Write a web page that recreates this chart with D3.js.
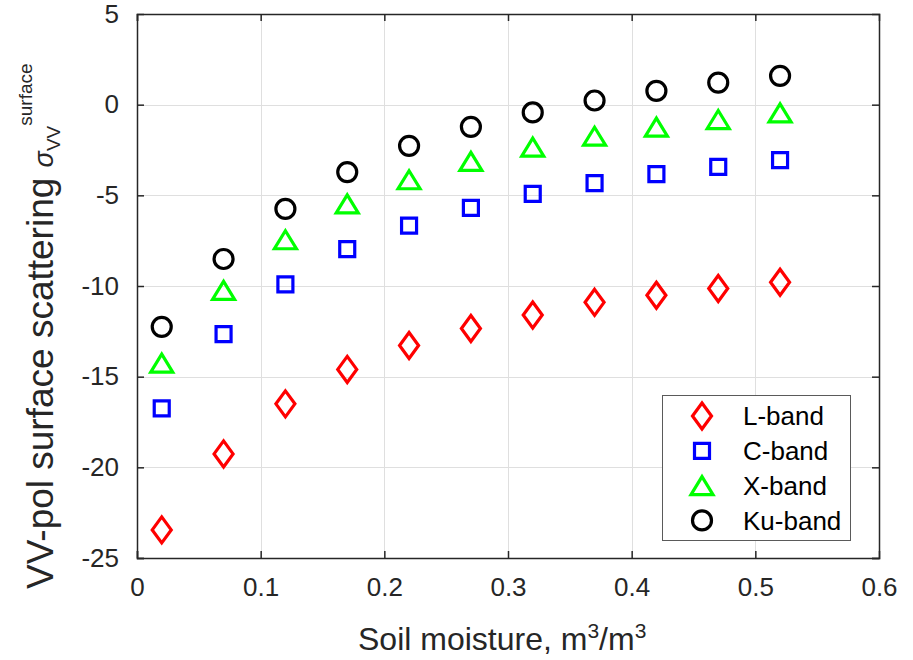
<!DOCTYPE html>
<html>
<head>
<meta charset="utf-8">
<script src="https://cdn.jsdelivr.net/npm/d3@7"></script>
<style>
  body { margin: 0; background: #fff; }
  text { font-family: "Liberation Sans", Arial, sans-serif; }
</style>
</head>
<body>
<div id="chart"></div>
<script>
// soil moisture (m3/m3) and VV surface backscatter (dB) per band
const moisture = [0.02, 0.07, 0.12, 0.17, 0.22, 0.27, 0.32, 0.37, 0.42, 0.47, 0.52];
const lBand  = [-23.45, -19.26, -16.5, -14.6, -13.28, -12.34, -11.6, -10.9, -10.51, -10.14, -9.79];
const cBand  = [-16.75, -12.65, -9.91, -7.97, -6.67, -5.69, -4.92, -4.33, -3.83, -3.43, -3.06];
const xBand  = [-14.25, -10.24, -7.45, -5.47, -4.14, -3.13, -2.34, -1.74, -1.24, -0.82, -0.45];
const kuBand = [-12.25, -8.51, -5.75, -3.72, -2.27, -1.22, -0.43, 0.23, 0.76, 1.22, 1.59];
const bandNames = ["L-band", "C-band", "X-band", "Ku-band"];
const xTicks = [0, 0.1, 0.2, 0.3, 0.4, 0.5, 0.6];
const yTicks = [-25, -20, -15, -10, -5, 0, 5];

const width = 913, height = 660;
const margin = {top: 14, right: 34, bottom: 102, left: 137};

const svg = d3.select("#chart").append("svg")
    .attr("width", width)
    .attr("height", height);

const x = d3.scaleLinear().domain([0, 0.6]).range([margin.left, width - margin.right]);
const y = d3.scaleLinear().domain([-25, 5]).range([height - margin.bottom, margin.top]);

// grid
const grid = svg.append("g").attr("stroke", "#dfdfdf").attr("stroke-width", 1);
grid.selectAll(".gx").data(xTicks.slice(1, -1)).join("line")
    .attr("x1", d => Math.round(x(d)) + 0.5).attr("x2", d => Math.round(x(d)) + 0.5)
    .attr("y1", y(5)).attr("y2", y(-25));
grid.selectAll(".gy").data(yTicks.slice(1, -1)).join("line")
    .attr("y1", d => Math.round(y(d)) + 0.5).attr("y2", d => Math.round(y(d)) + 0.5)
    .attr("x1", x(0)).attr("x2", x(0.6));

// axes, ticks inside on all four sides
const fmt = d => String(+d.toFixed(1));
const axes = [
    svg.append("g").attr("transform", `translate(0,${y(-25)})`)
        .call(d3.axisBottom(x).tickValues(xTicks).tickSize(-7).tickPadding(20).tickFormat(fmt)),
    svg.append("g").attr("transform", `translate(0,${y(5)})`)
        .call(d3.axisTop(x).tickValues(xTicks).tickSize(-7).tickFormat("")),
    svg.append("g").attr("transform", `translate(${x(0)},0)`)
        .call(d3.axisLeft(y).tickValues(yTicks).tickSize(-7).tickPadding(18).tickFormat(d => String(d))),
    svg.append("g").attr("transform", `translate(${x(0.6)},0)`)
        .call(d3.axisRight(y).tickValues(yTicks).tickSize(-7).tickFormat(""))
];
axes.forEach(a => {
    a.select(".domain").attr("stroke", "#262626").attr("stroke-width", 1.5);
    a.selectAll(".tick line").attr("stroke", "#262626").attr("stroke-width", 1.5);
    a.selectAll(".tick text").attr("fill", "#262626").style("font-size", "26px")
        .style("font-family", '"Liberation Sans", Arial, sans-serif');
});
svg.selectAll(".tick").filter(d => d === 0.6 || d === 5).select("line").remove();

// marker shapes
const shapes = {
    diamond: "M0,-13L9.5,0L0,13L-9.5,0Z",
    square: "M-7.5,-7.5H7.5V7.5H-7.5Z",
    triangle: "M0,-9L11,9L-11,9Z"
};
const series = [
    {name: bandNames[0], values: lBand, color: "#ff0000", shape: "diamond"},
    {name: bandNames[1], values: cBand, color: "#0000ff", shape: "square"},
    {name: bandNames[2], values: xBand, color: "#00ff00", shape: "triangle"},
    {name: bandNames[3], values: kuBand, color: "#000000", shape: "circle"}
];

function drawMarker(sel, s) {
    if (s.shape === "circle") {
        sel.append("circle").attr("r", 9.5);
    } else {
        sel.append("path").attr("d", shapes[s.shape]);
    }
    sel.attr("fill", "none").attr("stroke", s.color).attr("stroke-width", 3.2);
}

series.forEach(s => {
    svg.append("g").selectAll("g")
        .data(s.values.map((v, i) => [moisture[i], v]))
        .join("g")
        .attr("transform", d => `translate(${x(d[0])},${y(d[1])})`)
        .each(function() { drawMarker(d3.select(this), s); });
});

// legend
const legend = svg.append("g");
legend.append("rect")
    .attr("x", 662.5).attr("y", 395.5).attr("width", 188).attr("height", 145)
    .attr("fill", "#fff").attr("stroke", "#5a5a5a").attr("stroke-width", 1);
series.forEach((s, i) => {
    const ly = 416 + i * 34.8;
    drawMarker(legend.append("g").attr("transform", `translate(702,${ly})`), s);
    legend.append("text")
        .attr("x", 743).attr("y", ly)
        .attr("dy", "0.36em")
        .style("font-size", "26px")
        .attr("fill", "#000")
        .text(s.name);
});

// axis labels
const xl = svg.append("text")
    .attr("x", 358).attr("y", 650)
    .attr("fill", "#262626")
    .style("font-size", "32px");
xl.append("tspan").text("Soil moisture, m");
xl.append("tspan").attr("dy", -12).style("font-size", "21px").text("3");
xl.append("tspan").attr("dy", 12).text("/m");
xl.append("tspan").attr("dy", -12).style("font-size", "21px").text("3");

const yl = svg.append("text")
    .attr("transform", "translate(53,589) rotate(-90)")
    .attr("fill", "#262626")
    .style("font-size", "37px");
yl.append("tspan").text("VV-pol surface scattering ");
yl.append("tspan").style("font-size", "27px").style("font-style", "italic").text("\u03c3");
yl.append("tspan").attr("dy", 7).style("font-size", "19px").text("VV");
yl.append("tspan").attr("dy", -28).style("font-size", "19px").text("surface");
</script>
</body>
</html>
